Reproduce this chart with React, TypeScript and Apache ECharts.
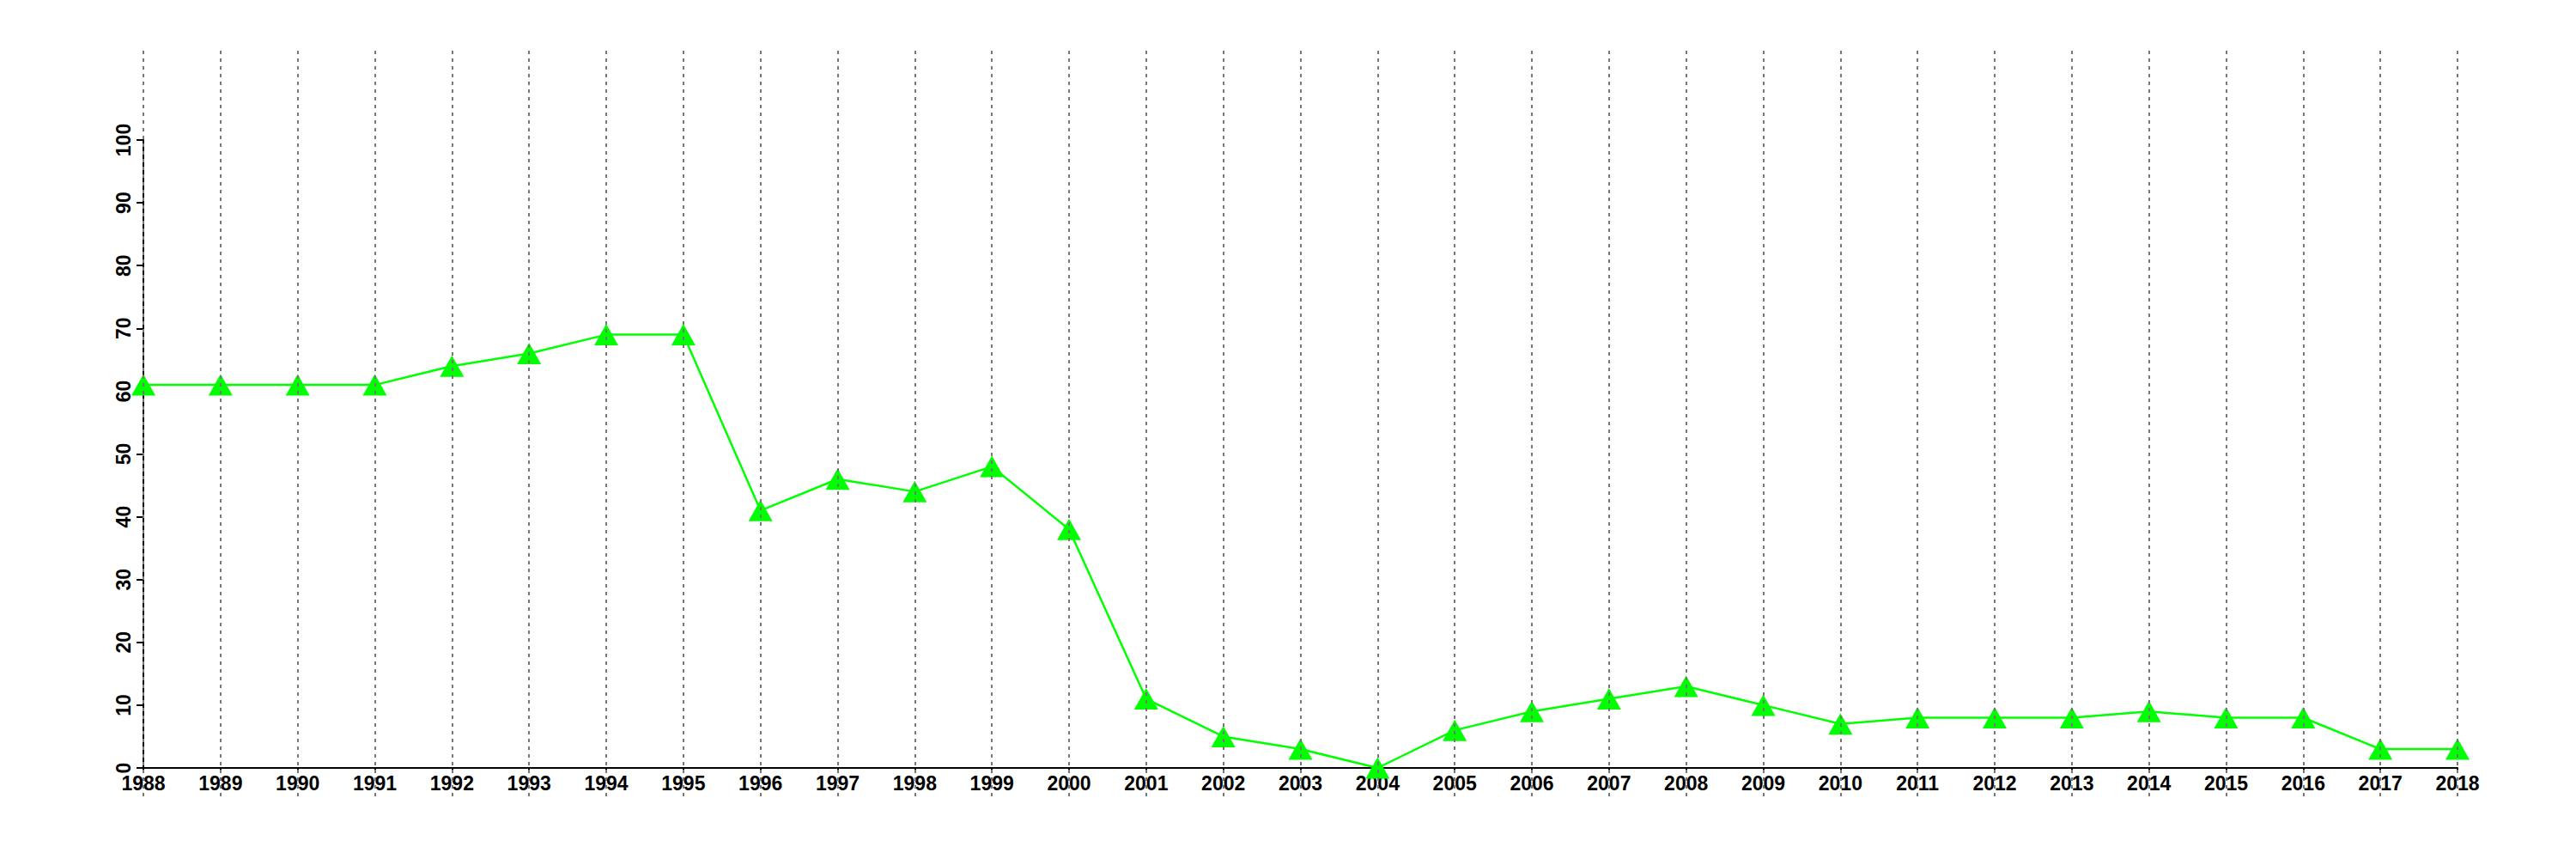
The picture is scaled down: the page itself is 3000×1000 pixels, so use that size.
import React, { useEffect, useRef } from "react";
import * as echarts from "echarts";

const years: string[] = [
  "1988", "1989", "1990", "1991", "1992", "1993", "1994", "1995", "1996", "1997",
  "1998", "1999", "2000", "2001", "2002", "2003", "2004", "2005", "2006", "2007",
  "2008", "2009", "2010", "2011", "2012", "2013", "2014", "2015", "2016", "2017", "2018",
];
const values: number[] = [
  61, 61, 61, 61, 64, 66, 69, 69, 41, 46,
  44, 48, 38, 11, 5, 3, 0, 6, 9, 11,
  13, 10, 7, 8, 8, 8, 9, 8, 8, 3, 3,
];
const yMin = 0;
const yMax = 100;
const yStep = 10;

const FONT = "'Liberation Sans', Arial, Helvetica, sans-serif";

export default function App() {
  const ref = useRef<HTMLDivElement>(null);
  useEffect(() => {
    if (!ref.current) return;
    const chart = echarts.init(ref.current, undefined, { renderer: "svg" });
    chart.setOption({
      animation: false,
      backgroundColor: "#ffffff",
      grid: [
        { left: 167, right: 138, top: 163, bottom: 106 },
        { left: 167, right: 138, top: 59, bottom: 73 },
      ],
      xAxis: [
        {
          type: "category",
          gridIndex: 0,
          data: years,
          boundaryGap: false,
          axisLine: { show: true, lineStyle: { color: "#000", width: 2 } },
          axisTick: { show: true, length: 6, interval: 0, lineStyle: { color: "#000", width: 2 } },
          axisLabel: {
            show: true,
            interval: 0,
            margin: 6,
            color: "#000",
            fontSize: 23,
            fontWeight: "bold",
            fontFamily: FONT,
          },
          splitLine: { show: false },
        },
        {
          type: "category",
          gridIndex: 1,
          data: years,
          boundaryGap: false,
          z: 10,
          axisLine: { show: false },
          axisTick: { show: false },
          axisLabel: { show: false },
          splitLine: {
            show: true,
            interval: 0,
            lineStyle: { color: "#777777", width: 2, type: [4, 5] },
          },
        },
      ],
      yAxis: [
        {
          type: "value",
          gridIndex: 0,
          min: yMin,
          max: yMax,
          interval: yStep,
          axisLine: { show: true, lineStyle: { color: "#000", width: 2 } },
          axisTick: { show: true, length: 8, lineStyle: { color: "#000", width: 2 } },
          axisLabel: {
            show: true,
            rotate: 90,
            margin: 12,
            color: "#000",
            fontSize: 23,
            fontWeight: "bold",
            fontFamily: FONT,
          },
          splitLine: { show: false },
        },
        {
          type: "value",
          gridIndex: 1,
          min: 0,
          max: 1,
          show: false,
          splitLine: { show: false },
        },
      ],
      series: [
        {
          type: "line",
          xAxisIndex: 0,
          yAxisIndex: 0,
          data: values,
          clip: false,
          symbol: "triangle",
          symbolSize: [28, 25],
          showAllSymbol: true,
          lineStyle: { color: "#00ff00", width: 2.5 },
          itemStyle: { color: "#00ff00", borderWidth: 0 },
          z: 3,
        },
      ],
    });
    return () => chart.dispose();
  }, []);
  return (
    <div
      ref={ref}
      style={{ position: "absolute", left: 0, top: 0, width: 3000, height: 1000 }}
    />
  );
}
